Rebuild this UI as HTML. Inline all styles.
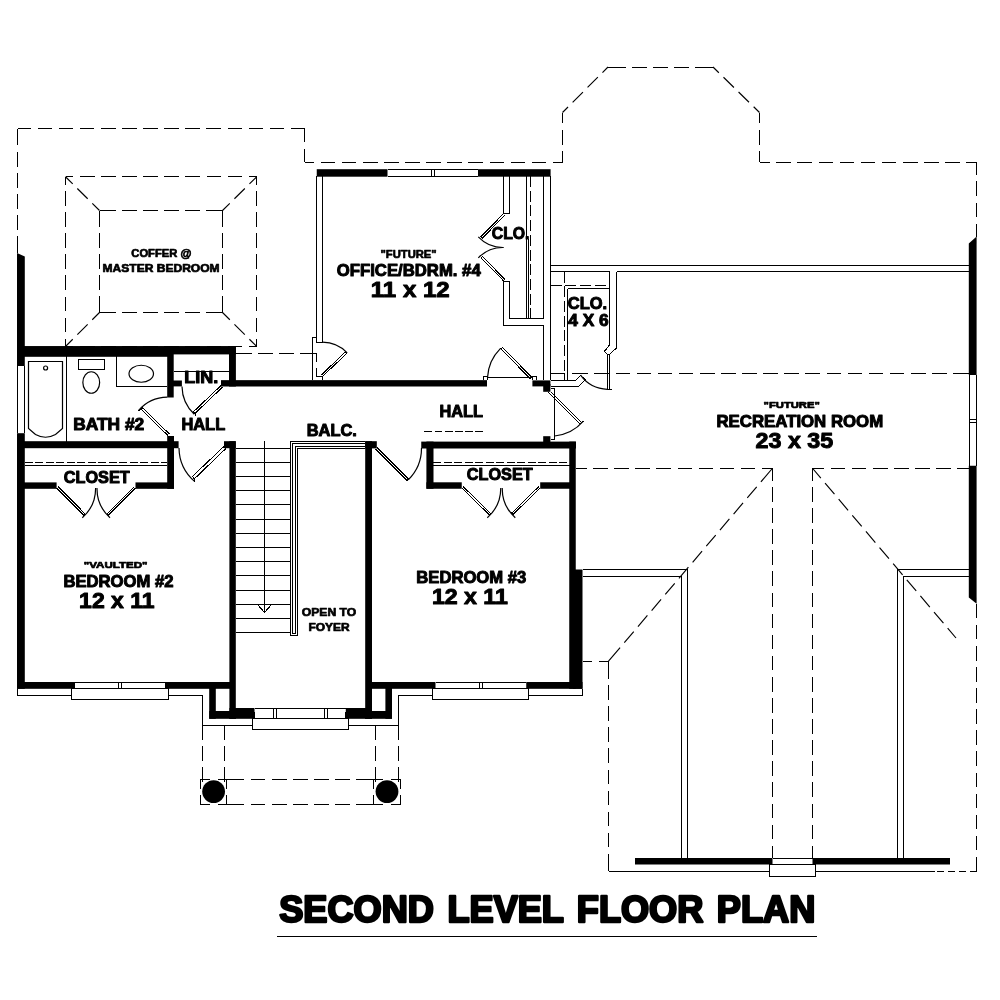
<!DOCTYPE html>
<html lang="en">
<head>
<meta charset="utf-8">
<title>Second Level Floor Plan</title>
<style>
html,body{margin:0;padding:0;background:#fff;width:1000px;height:1000px;overflow:hidden}
svg{display:block;will-change:transform}
text{font-family:"Liberation Sans",sans-serif;font-weight:bold;fill:#000;stroke:#000;stroke-width:1;stroke-linejoin:round}
.t{stroke:#000;stroke-width:1;fill:none;shape-rendering:crispEdges}
.w{stroke:#000;stroke-width:1;fill:#fff;shape-rendering:crispEdges}
.d{stroke:#000;stroke-width:1;fill:none;stroke-dasharray:14 7;shape-rendering:crispEdges}
.d2{stroke:#000;stroke-width:1;fill:none;stroke-dasharray:8 2.5;shape-rendering:crispEdges}
.dd{stroke:#000;stroke-width:1;fill:none;shape-rendering:crispEdges}
.dg{shape-rendering:geometricPrecision;stroke-width:1.15}
.d4{stroke:#000;stroke-width:1;fill:none;stroke-dasharray:11 3.7;shape-rendering:crispEdges}
.d3{stroke:#000;stroke-width:1;fill:none;stroke-dasharray:5 3;shape-rendering:crispEdges}
.ld{stroke:#000;stroke-width:1;fill:none;stroke-dasharray:14 7;shape-rendering:crispEdges}
.c{shape-rendering:geometricPrecision !important;stroke-width:1.2 !important}
.k{fill:#000;stroke:none}
</style>
</head>
<body>
<svg width="1000" height="1000" viewBox="0 0 1000 1000">
<rect x="0" y="0" width="1000" height="1000" fill="#fff"/>

<!-- ===== DASHED OUTLINES ===== -->
<g id="dashed">
<path class="dd" d="M17.5,253 L17.5,128.75" stroke-dasharray="16.67 6.50 14.60 6.50 14.60 6.50 14.60 6.50 14.60 6.50 16.67"/>
<path class="dd" d="M17.5,128.75 L304.5,128.75" stroke-dasharray="13.65 6.50 14.60 6.50 14.60 6.50 14.60 6.50 14.60 6.50 14.60 6.50 14.60 6.50 14.60 6.50 14.60 6.50 14.60 6.50 14.60 6.50 14.60 6.50 14.60 6.50 13.65"/>
<path class="dd" d="M304.5,128.75 L304.5,162" stroke-dasharray="13.38 6.50 13.38"/>
<path class="dd" d="M304.5,162 L562.5,162" stroke-dasharray="9.70 6.50 14.60 6.50 14.60 6.50 14.60 6.50 14.60 6.50 14.60 6.50 14.60 6.50 14.60 6.50 14.60 6.50 14.60 6.50 14.60 6.50 14.60 6.50 9.70"/>
<path class="dd" d="M562.5,162 L562.5,112.5" stroke-dasharray="10.95 6.50 14.60 6.50 10.95"/>
<path class="dd dg" d="M562.5,112.5 L608,67" stroke-dasharray="7.82 6.50 14.60 6.50 14.60 6.50 7.82"/>
<path class="dd" d="M608,67 L713,67" stroke-dasharray="17.60 6.50 14.60 6.50 14.60 6.50 14.60 6.50 17.60"/>
<path class="dd dg" d="M713,67 L759.5,112.5" stroke-dasharray="8.18 6.50 14.60 6.50 14.60 6.50 8.18"/>
<path class="dd" d="M759.5,112.5 L759.5,162" stroke-dasharray="10.95 6.50 14.60 6.50 10.95"/>
<path class="dd" d="M759.5,162 L976.6,162" stroke-dasharray="10.35 6.50 14.60 6.50 14.60 6.50 14.60 6.50 14.60 6.50 14.60 6.50 14.60 6.50 14.60 6.50 14.60 6.50 14.60 6.50 10.35"/>
<path class="dd" d="M976.6,162 L976.6,236.5" stroke-dasharray="12.90 6.50 14.60 6.50 14.60 6.50 12.90"/>
<path class="dd" d="M65.5,176.75 L256.75,176.75" stroke-dasharray="7.97 6.50 14.60 6.50 14.60 6.50 14.60 6.50 14.60 6.50 14.60 6.50 14.60 6.50 14.60 6.50 14.60 6.50 7.97"/>
<path class="dd" d="M256.75,176.75 L256.75,346.5" stroke-dasharray="7.77 6.50 14.60 6.50 14.60 6.50 14.60 6.50 14.60 6.50 14.60 6.50 14.60 6.50 14.60 6.50 7.77"/>
<path class="dd" d="M256.75,346.5 L65.5,346.5" stroke-dasharray="7.97 6.50 14.60 6.50 14.60 6.50 14.60 6.50 14.60 6.50 14.60 6.50 14.60 6.50 14.60 6.50 14.60 6.50 7.97"/>
<path class="dd" d="M65.5,346.5 L65.5,176.75" stroke-dasharray="7.77 6.50 14.60 6.50 14.60 6.50 14.60 6.50 14.60 6.50 14.60 6.50 14.60 6.50 14.60 6.50 7.77"/>
<path class="dd" d="M99.5,210.5 L222.5,210.5" stroke-dasharray="16.05 6.50 14.60 6.50 14.60 6.50 14.60 6.50 14.60 6.50 16.05"/>
<path class="dd" d="M222.5,210.5 L222.5,312.5" stroke-dasharray="16.10 6.50 14.60 6.50 14.60 6.50 14.60 6.50 16.10"/>
<path class="dd" d="M222.5,312.5 L99.5,312.5" stroke-dasharray="16.05 6.50 14.60 6.50 14.60 6.50 14.60 6.50 14.60 6.50 16.05"/>
<path class="dd" d="M99.5,312.5 L99.5,210.5" stroke-dasharray="16.10 6.50 14.60 6.50 14.60 6.50 14.60 6.50 16.10"/>
<path class="dd dg" d="M65.5,176.75 L99.5,210.5" stroke-dasharray="10.15 6.50 14.60 6.50 10.15"/>
<path class="dd dg" d="M256.75,176.75 L222.5,210.5" stroke-dasharray="10.24 6.50 14.60 6.50 10.24"/>
<path class="dd dg" d="M65.5,346.5 L99.5,312.5" stroke-dasharray="10.24 6.50 14.60 6.50 10.24"/>
<path class="dd dg" d="M256.75,346.5 L222.5,312.5" stroke-dasharray="10.33 6.50 14.60 6.50 10.33"/>
<path class="dd" d="M236,353.4 L316,353.4" stroke-dasharray="15.65 6.50 14.60 6.50 14.60 6.50 15.65"/>
<path class="dd" d="M572,373.5 L969,373.5" stroke-dasharray="15.90 6.50 14.60 6.50 14.60 6.50 14.60 6.50 14.60 6.50 14.60 6.50 14.60 6.50 14.60 6.50 14.60 6.50 14.60 6.50 14.60 6.50 14.60 6.50 14.60 6.50 14.60 6.50 14.60 6.50 14.60 6.50 14.60 6.50 14.60 6.50 15.90"/>
<path class="dd" d="M576,468.25 L772.5,468.25" stroke-dasharray="10.60 6.50 14.60 6.50 14.60 6.50 14.60 6.50 14.60 6.50 14.60 6.50 14.60 6.50 14.60 6.50 14.60 6.50 10.60"/>
<path class="dd" d="M812.5,468.25 L969,468.25" stroke-dasharray="11.70 6.50 14.60 6.50 14.60 6.50 14.60 6.50 14.60 6.50 14.60 6.50 14.60 6.50 11.70"/>
<path class="dd" d="M772.5,468.25 L772.5,858" stroke-dasharray="12.27 6.50 14.60 6.50 14.60 6.50 14.60 6.50 14.60 6.50 14.60 6.50 14.60 6.50 14.60 6.50 14.60 6.50 14.60 6.50 14.60 6.50 14.60 6.50 14.60 6.50 14.60 6.50 14.60 6.50 14.60 6.50 14.60 6.50 14.60 6.50 12.27"/>
<path class="dd" d="M812.5,468.25 L812.5,858" stroke-dasharray="12.27 6.50 14.60 6.50 14.60 6.50 14.60 6.50 14.60 6.50 14.60 6.50 14.60 6.50 14.60 6.50 14.60 6.50 14.60 6.50 14.60 6.50 14.60 6.50 14.60 6.50 14.60 6.50 14.60 6.50 14.60 6.50 14.60 6.50 14.60 6.50 12.27"/>
<path class="dd dg" d="M772.5,468.25 L608.5,661.25" stroke-dasharray="17.88 6.50 14.60 6.50 14.60 6.50 14.60 6.50 14.60 6.50 14.60 6.50 14.60 6.50 14.60 6.50 14.60 6.50 14.60 6.50 14.60 6.50 17.88"/>
<path class="dd dg" d="M812.5,468.25 L956,638" stroke-dasharray="12.94 6.50 14.60 6.50 14.60 6.50 14.60 6.50 14.60 6.50 14.60 6.50 14.60 6.50 14.60 6.50 14.60 6.50 14.60 6.50 12.94"/>
<path class="dd" d="M582.5,661.25 L608.5,661.25" stroke-dasharray="9.75 6.50 9.75"/>
<path class="dd" d="M608.5,661.25 L608.5,871.25" stroke-dasharray="17.35 6.50 14.60 6.50 14.60 6.50 14.60 6.50 14.60 6.50 14.60 6.50 14.60 6.50 14.60 6.50 14.60 6.50 17.35"/>
<path class="dd" d="M976.6,604 L976.6,871.25" stroke-dasharray="14.32 6.50 14.60 6.50 14.60 6.50 14.60 6.50 14.60 6.50 14.60 6.50 14.60 6.50 14.60 6.50 14.60 6.50 14.60 6.50 14.60 6.50 14.60 6.50 14.32"/>
<path class="dd" d="M202.4,725.5 L202.4,781.5" stroke-dasharray="14.20 6.50 14.60 6.50 14.20"/>
<path class="dd" d="M224.5,725.5 L224.5,781.5" stroke-dasharray="14.20 6.50 14.60 6.50 14.20"/>
<path class="dd" d="M375.8,725.5 L375.8,781.5" stroke-dasharray="14.20 6.50 14.60 6.50 14.20"/>
<path class="dd" d="M398.2,725.5 L398.2,781.5" stroke-dasharray="14.20 6.50 14.60 6.50 14.20"/>
<path class="dd" d="M226.7,779.5 L373.9,779.5" stroke-dasharray="17.60 6.50 14.60 6.50 14.60 6.50 14.60 6.50 14.60 6.50 14.60 6.50 17.60"/>
<path class="dd" d="M226.7,804.3 L373.9,804.3" stroke-dasharray="17.60 6.50 14.60 6.50 14.60 6.50 14.60 6.50 14.60 6.50 14.60 6.50 17.60"/>
<path class="dd" d="M976.6,871.25 H935" stroke-dasharray="6.5 4.5"/>
<!-- hall -->
<path class="dd" d="M424.4,431.5 H483.6" stroke-dasharray="7.7 2.5"/>
<!-- porch column boxes -->
<path class="t" d="M200.3,788.7 V779.5 H209.5 M217.5,779.5 H226.7 V788.7 M226.7,795.1 V804.3 H217.5 M209.5,804.3 H200.3 V795.1"/>
<path class="t" d="M373.9,788.7 V779.5 H383.1 M391.1,779.5 H400.3 V788.7 M400.3,795.1 V804.3 H391.1 M383.1,804.3 H373.9 V795.1"/>
</g>

<!-- ===== THIN LINES ===== -->
<g id="thin">
<!-- office #4 -->
<path class="t" d="M316.3,176 V342.1 H322.5 V176"/>
<path class="t" d="M387.5,169.7 H478.25 M387.5,176.3 H478.25 M431.5,169.5 V176.5 M434.5,169.5 V176.5"/>
<path class="t" d="M503.7,176 V213.5 H509.6 V176"/>
<path class="t" d="M503.7,281 V325.6 H543.5 M509.6,281 V318.4 H543.5 M503.7,281 H509.6"/>
<path class="t" d="M526.7,176 V318.4 M528.5,239 V318.4"/>
<path class="d4" d="M530.2,176 V318.4"/>
<path class="t" d="M543.5,176 V318.4 M543.5,325.6 V380 M550.5,176 V380"/>
<!-- bifold office clo -->
<path class="t" d="M503.7,213.5 L481.2,236.5 L482.6,237.9 L505.1,214.9"/>
<path class="t c" d="M478.3,236.8 A34,34 0 0 0 503.5,247.5"/>
<path class="t" d="M503.7,281 L481.2,258 L482.6,256.6 L505.1,279.6"/>
<path class="t c" d="M478.3,257.8 A34,34 0 0 1 503.5,247.5"/>
<!-- office left door -->
<path class="t" d="M316.3,337.2 H312.3 V380"/>
<path class="t" d="M316.5,353.3 V361.7 M316.5,368 V376.4 H322.5 V380"/>
<path class="t" d="M321.6,374.7 L345.4,351.9 L347.1,353.2 L323,375.9"/>
<path class="t c" d="M322.5,342.1 A34.7,34.7 0 0 1 347.2,352.8"/>
<!-- rec room top double line -->
<path class="t" d="M550.75,265.5 H969.25 M550.75,271.5 H609.5 M616.5,271.5 H969.25"/>
<!-- clo 4x6 -->
<path class="t" d="M609.5,271.5 V345 L604.2,351.6 L608.6,355.2 M616.5,271.5 V348 L608.6,355.2"/>
<path class="t" d="M607.4,355.2 V389 M609.4,355.2 V389 M607.4,389 H612.2"/>
<path class="t c" d="M607.4,389.3 A34.2,34.2 0 0 1 580.6,375.2"/>
<path class="t" d="M550.75,380.4 H575.6 L580.4,375.4 L585.5,379.8 L579,386.2 H550.75"/>
<path class="d4" d="M564.5,271.5 V380"/>
<path class="t" d="M567.5,288.5 V380 M567.5,288.5 H609.5"/>
<path class="d4" d="M550.75,285.5 H609.5"/>
<path class="t" d="M550.75,373 H564.75"/>
<!-- office -> hall door -->
<path class="t" d="M483,380 V376.25 H487.5 V380 M532,380 V376.25 H536.5 V380"/>
<path class="t" d="M487.5,377 H532"/>
<path class="t" d="M530.5,379 L500.5,348.5 M532.5,378 L502.5,347.5 L500.5,349.5"/>
<path class="t c" d="M500.3,348.7 A44.5,44.5 0 0 0 487.5,377.5"/>
<!-- rec room door -->
<path class="t" d="M550.75,388.2 H554.6 V439.5 H550.75"/>
<path class="t" d="M548.6,392.4 L579.8,423.6 L583.4,421.2 M551.6,392.4 L581.6,422.4"/>
<path class="t c" d="M583.4,421.2 A44,44 0 0 1 554.6,436"/>
<!-- rec hip walls -->
<path class="t" d="M582.5,569.5 H687 V858 M582.5,576.25 H681.25 V858"/>
<path class="t" d="M969.25,569.5 H897.5 V858 M969.25,576.25 H903.25 V858"/>
<path class="t" d="M608.5,871.25 H769.5 M815.75,871.25 H935"/>
<rect class="w" x="769.5" y="864.5" width="46.25" height="12"/>
<path class="t" d="M772.5,858 H812.5"/>
<!-- rec right window -->
<path class="t" d="M969.75,375 V466.25 M976.25,375 V466.25 M969.75,419.5 H976.25 M969.75,422 H976.25"/>
<!-- left wall window -->
<path class="t" d="M17.5,366 V433 M24.5,366 V433"/>
<!-- bath -->
<path class="t" d="M66,356 V441.5"/>
<path class="t c" d="M28.5,361.5 H62.5 V428.5 L55.5,434.5 Q45.5,440 35.5,434.5 L28.5,428.5 Z"/>
<circle class="t c" cx="45.6" cy="368" r="2"/>
<rect class="t" x="78.25" y="359.5" width="26.25" height="9.75"/>
<ellipse class="t c" cx="91.25" cy="382.5" rx="8.4" ry="10.75"/>
<path class="t" d="M116.25,356 V386.25 H167"/>
<ellipse class="t c" cx="141.25" cy="373.75" rx="12.25" ry="8.5"/>
<!-- LIN -->
<path class="t" d="M173.75,371.25 H228.75"/>
<path class="t" d="M221,385.5 L193.4,411.8 L195,413.4 L222.5,387.1 M193.4,411.8 L196,415.4"/>
<path class="t c" d="M182,386.4 A39,39 0 0 0 194.3,414.2"/>
<!-- bath door -->
<path class="t" d="M168.1,435.7 L141.2,409.5 L142.7,408 L169.6,434.2 M141.2,409.5 L138.4,410.7"/>
<path class="t c" d="M138.4,410.7 A38.7,38.7 0 0 1 167.3,397.2"/>
<!-- bedroom2 closet -->
<path class="d2" d="M24.5,462.5 H167"/>
<path class="t" d="M24.5,465.5 H167"/>
<path class="t" d="M56.6,488 L83.5,515 L84.9,513.6 L58,486.6"/>
<path class="t c" d="M82.3,517.7 A39,39 0 0 0 95.6,488"/>
<path class="t" d="M135.6,488 L108.7,515 L107.3,513.6 L134.2,486.6"/>
<path class="t c" d="M110,517.7 A39,39 0 0 1 97,488"/>
<!-- bedroom 2 door -->
<path class="t" d="M224,446.4 L192.4,476.4 L194.4,478.8 L225.8,448.6 M194.4,478.8 L195,481.6"/>
<path class="t c" d="M179,448 A45,45 0 0 0 194.8,481.6"/>
<!-- stairs -->
<path class="t" d="M236,448 H290.5 M236,462.2 H290.5 M236,476.4 H290.5 M236,490.6 H290.5 M236,504.8 H290.5 M236,519 H290.5 M236,533.2 H290.5 M236,547.4 H290.5 M236,561.6 H290.5 M236,575.8 H290.5 M236,590 H290.5 M236,604.2 H290.5 M236,618.4 H290.5 M236,632.6 H290.5"/>
<path class="t" d="M264.5,441.25 V611.5 M257.5,604.5 L264.5,612.5 L271.5,604.5"/>
<path class="t" d="M365,441.5 H290.5 V635.5 H297.5 V448.5 H365"/>
<path class="t" d="M365,443.5 H292.5 V633.5 H295.5 V446.5 H365"/>
<!-- bedroom 3 door -->
<path class="t" d="M377,447.5 L408.5,479 L407,480.5 L375.5,449"/>
<path class="t c" d="M421.5,448 A44.5,44.5 0 0 1 408.3,479.8"/>
<!-- bedroom 3 closet -->
<path class="d2" d="M433.25,462.3 H569.5"/>
<path class="t" d="M433.25,465.5 H569.5"/>
<path class="t" d="M461.75,488 L489.5,515 L490.9,513.6 L463.2,486.6"/>
<path class="t c" d="M487.3,517.7 A39,39 0 0 0 500.75,488"/>
<path class="t" d="M540.2,488 L513,514.5 L511.6,513.1 L538.8,486.6"/>
<path class="t c" d="M515.3,517.7 A39,39 0 0 1 502.25,488"/>
<!-- bottom windows / sills -->
<path class="t" d="M17.5,688.75 V695.5 H71.25 M168.75,695 H202.5 V725 H252.5"/>
<rect class="w" x="71.25" y="688.75" width="97.500" height="10.75"/>
<path class="t" d="M75,682.5 H165 M75,688.75 H165 M118.5,682.5 V688.75 M121,682.5 V688.75"/>
<rect class="w" x="252.5" y="718.75" width="96.25" height="10.75"/>
<path class="t" d="M254.5,708.500 H345.5 M254.5,711.5 V718.75 M345.5,711.5 V718.75 M254.5,718.75 H345.5 M273.75,708.500 V718.75 M276.25,708.500 V718.75 M324.5,708.500 V718.75 M327.25,708.500 V718.75"/>
<path class="t" d="M348.75,725 H398.75 V695 H432.5 M528.75,695 H582.5 V688.75"/>
<rect class="w" x="432.5" y="688.75" width="96.25" height="10.75"/>
<path class="t" d="M435.5,682.500 H526.25 M435.5,688.75 H526.25 M479.5,682.500 V688.75 M482.25,682.500 V688.75"/>
</g>

<!-- ===== THICK WALLS ===== -->
<g id="walls" class="k">
<polygon points="17,253 24.8,256.5 24.8,366 17,366"/>
<rect x="17" y="433.2" width="7.8" height="255.6"/>
<rect x="17" y="346.05" width="152" height="10.75"/>
<rect x="167.2" y="346.05" width="68.7" height="8.35"/>
<rect x="167.2" y="354" width="6.5" height="43.5"/>
<rect x="171" y="380.5" width="10.9" height="5.9"/>
<rect x="229" y="346.05" width="6.9" height="40.45"/>
<rect x="221" y="380.15" width="266" height="6.35"/>
<rect x="532.4" y="380.4" width="18" height="6"/>
<rect x="543.2" y="384" width="7.2" height="7.8"/>
<rect x="543.2" y="436.2" width="7.2" height="8"/>
<rect x="20" y="441.2" width="158.6" height="7"/>
<rect x="167.2" y="436" width="6.8" height="52.8"/>
<rect x="20" y="482.4" width="36.6" height="6.4"/>
<rect x="135.5" y="482.4" width="38.5" height="6.4"/>
<rect x="224" y="441.2" width="11.7" height="7"/>
<rect x="229.4" y="441.2" width="6.4" height="277.6"/>
<rect x="365.2" y="441.2" width="6.8" height="277.6"/>
<rect x="365.2" y="441.2" width="11.6" height="7.2"/>
<rect x="17" y="682" width="58" height="6.8"/>
<rect x="165" y="682" width="67" height="6.8"/>
<rect x="209.2" y="688" width="6.6" height="30.8"/>
<rect x="209.2" y="711" width="26.8" height="7.8"/>
<rect x="229.4" y="708" width="25.1" height="10.8"/>
<rect x="385.4" y="688" width="6.6" height="30.8"/>
<rect x="365" y="711" width="27" height="7.8"/>
<rect x="345.8" y="708" width="26.2" height="10.8"/>
<rect x="369" y="682" width="66.5" height="6.8"/>
<rect x="526.25" y="682" width="56.25" height="6.8"/>
<rect x="569.25" y="441.6" width="6.5" height="247.2"/>
<rect x="573" y="569.5" width="9.5" height="119.3"/>
<rect x="421.25" y="441.6" width="154.75" height="6.9"/>
<rect x="426.4" y="441.6" width="7.1" height="47.15"/>
<rect x="426.4" y="482.3" width="35.35" height="6.45"/>
<rect x="540.2" y="482.3" width="32" height="6.45"/>
<rect x="316.75" y="169.2" width="70.75" height="7.5"/>
<rect x="478" y="169.2" width="72.6" height="7.5"/>
<rect x="635" y="858" width="137.5" height="6.5"/>
<rect x="812.5" y="858" width="137.5" height="6.5"/>
<polygon points="976.6,236.5 976.6,375 968.8,375 968.8,243.5"/>
<polygon points="968.8,465.8 976.6,465.8 976.6,603.75 968.8,597.5"/>
<circle cx="213.6" cy="791.6" r="11.4"/>
<circle cx="387" cy="791.6" r="11.4"/>
</g>

<!-- ===== TEXT ===== -->
<g id="labels">
<text x="131.30" y="257.15" font-size="11" textLength="60.05" lengthAdjust="spacingAndGlyphs" style="stroke-width:0.7">COFFER @</text>
<text x="102.60" y="272.25" font-size="11" textLength="117.00" lengthAdjust="spacingAndGlyphs" style="stroke-width:0.7">MASTER BEDROOM</text>
<text x="380.50" y="258.25" font-size="11.6" textLength="56.15" lengthAdjust="spacingAndGlyphs" style="stroke-width:0.7">&quot;FUTURE&quot;</text>
<text x="336.75" y="276.10" font-size="16.6" textLength="143.95" lengthAdjust="spacingAndGlyphs" style="stroke-width:1">OFFICE/BDRM. #4</text>
<text x="370.80" y="297.10" font-size="22.4" textLength="78.90" lengthAdjust="spacingAndGlyphs" style="stroke-width:1">11 x 12</text>
<text x="491.75" y="238.70" font-size="16.6" textLength="37.75" lengthAdjust="spacingAndGlyphs" style="stroke-width:1">CLO.</text>
<text x="567.75" y="308.90" font-size="16.6" textLength="39.30" lengthAdjust="spacingAndGlyphs" style="stroke-width:1">CLO.</text>
<text x="568.25" y="326.00" font-size="16.6" textLength="40.35" lengthAdjust="spacingAndGlyphs" style="stroke-width:1">4 X 6</text>
<text x="184.35" y="383.30" font-size="16.6" textLength="34.00" lengthAdjust="spacingAndGlyphs" style="stroke-width:1">LIN.</text>
<text x="73.25" y="430.10" font-size="16.6" textLength="71.00" lengthAdjust="spacingAndGlyphs" style="stroke-width:1">BATH #2</text>
<text x="181.40" y="430.20" font-size="16.6" textLength="43.80" lengthAdjust="spacingAndGlyphs" style="stroke-width:1">HALL</text>
<text x="306.70" y="435.90" font-size="16.6" textLength="50.25" lengthAdjust="spacingAndGlyphs" style="stroke-width:1">BALC.</text>
<text x="439.50" y="417.10" font-size="16.6" textLength="43.50" lengthAdjust="spacingAndGlyphs" style="stroke-width:1">HALL</text>
<text x="63.75" y="482.80" font-size="16.6" textLength="66.00" lengthAdjust="spacingAndGlyphs" style="stroke-width:1">CLOSET</text>
<text x="466.75" y="480.30" font-size="16.6" textLength="66.00" lengthAdjust="spacingAndGlyphs" style="stroke-width:1">CLOSET</text>
<text x="83.75" y="568.25" font-size="9.9" textLength="63.80" lengthAdjust="spacingAndGlyphs" style="stroke-width:0.7">&quot;VAULTED&quot;</text>
<text x="63.50" y="587.30" font-size="16.6" textLength="109.95" lengthAdjust="spacingAndGlyphs" style="stroke-width:1">BEDROOM #2</text>
<text x="79.10" y="608.30" font-size="22.4" textLength="75.45" lengthAdjust="spacingAndGlyphs" style="stroke-width:1">12 x 11</text>
<text x="416.30" y="583.00" font-size="16.6" textLength="109.95" lengthAdjust="spacingAndGlyphs" style="stroke-width:1">BEDROOM #3</text>
<text x="431.90" y="604.30" font-size="22.4" textLength="75.90" lengthAdjust="spacingAndGlyphs" style="stroke-width:1">12 x 11</text>
<text x="301.75" y="616.25" font-size="11.3" textLength="54.45" lengthAdjust="spacingAndGlyphs" style="stroke-width:0.7">OPEN TO</text>
<text x="308.50" y="631.25" font-size="11.3" textLength="41.15" lengthAdjust="spacingAndGlyphs" style="stroke-width:0.7">FOYER</text>
<text x="763.55" y="408.25" font-size="9.9" textLength="56.30" lengthAdjust="spacingAndGlyphs" style="stroke-width:0.7">&quot;FUTURE&quot;</text>
<text x="716.50" y="426.90" font-size="16.6" textLength="166.65" lengthAdjust="spacingAndGlyphs" style="stroke-width:1">RECREATION ROOM</text>
<text x="755.55" y="448.10" font-size="22.4" textLength="77.70" lengthAdjust="spacingAndGlyphs" style="stroke-width:1">23 x 35</text>
<text x="279.25" y="922.35" font-size="36.3" textLength="536.00" lengthAdjust="spacingAndGlyphs" style="stroke-width:2.4;word-spacing:3.5px">SECOND LEVEL FLOOR PLAN</text>
</g>
<path class="t" d="M277,936.5 H817"/>
</svg>
</body>
</html>
